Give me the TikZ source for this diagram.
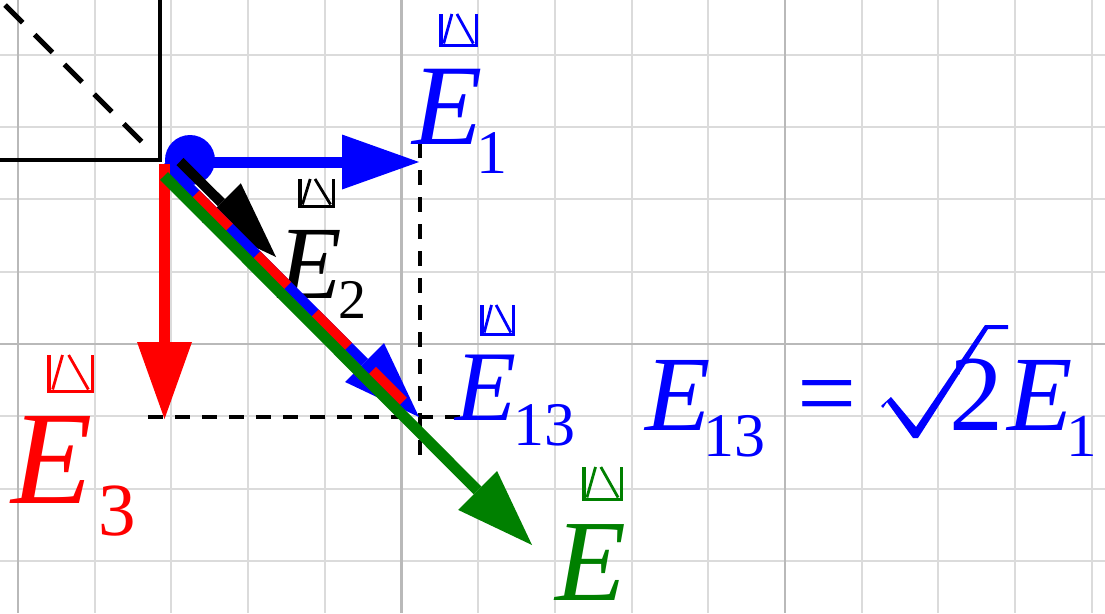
\documentclass[tikz,border=0pt]{standalone}
\usepackage{fontspec}
\setmainfont{Liberation Serif}
\usetikzlibrary{arrows.meta}
\definecolor{vgreen}{RGB}{0,128,0}
\newcommand\myacc[5]{%
  \draw[#5, line width=3.5pt, line join=miter] (#1+1.75,#2) -- (#1+1.75,#2+#4-1.75) -- (#1+#3-1.75,#2+#4-1.75) -- (#1+#3-1.75,#2);
  \draw[#5, line width=2.8pt] (#1+0.12*#3,#2+#4-3.5) -- (#1+0.33*#3,#2);
  \draw[#5, line width=2.8pt] (#1+0.46*#3,#2) -- (#1+0.88*#3,#2+#4-3.5);
}
\begin{document}
\begin{tikzpicture}[x=1pt,y=-1pt,
  gridminor/.style={draw=gray!28, line width=2pt},
  gridmajor/.style={draw=gray!55, line width=2.4pt},
  guide/.style={draw=black, line width=3.5pt, dash pattern=on 15pt off 12pt},
  vec/.style={line width=11pt, -{Triangle[length=77pt,width=55pt,line width=0pt]}},
  lab/.style={anchor=base west, inner sep=0pt, outer sep=0pt},
]
\useasboundingbox (0,0) rectangle (1105,613);
\fill[white] (0,0) rectangle (1105,613);
% grid
\foreach \i in {0,...,14} {\pgfmathsetmacro\xx{18+76.7*\i}\draw[gridminor] (\xx,0) -- (\xx,613);}
\foreach \j in {-4,...,3} {\pgfmathsetmacro\yy{344+72.3*\j}\draw[gridminor] (0,\yy) -- (1105,\yy);}
\draw[gridmajor] (18,0) -- (18,613);
\draw[gridmajor] (401.5,0) -- (401.5,613);
\draw[gridmajor] (785,0) -- (785,613);
\draw[gridmajor] (0,344) -- (1105,344);
% square and its diagonal
\coordinate (sqA) at (160,-10);
\coordinate (sqC) at (160,160);
\coordinate (sqB) at (-10,160);
\draw[line width=4pt, line join=miter] (sqA) -- (sqC) -- (sqB);
\coordinate (dgA) at (141.5,141.5);
\coordinate (dgB) at (-5,-5);
\draw[line width=5pt, dash pattern=on 25pt off 17pt] (dgA) -- (dgB);
% guides
\coordinate (gvA) at (420,143);
\coordinate (gvB) at (420,465);
\coordinate (ghA) at (148,417);
\coordinate (ghB) at (462,417);
\draw[guide] (gvA) -- (gvB);
\draw[guide] (ghA) -- (ghB);
% labels
\myacc{439}{14}{39}{33}{blue}
\node[lab, text=blue] (e1) at (412,144) {\fontsize{115}{115}\selectfont\itshape E};
\node[lab, text=blue] (e1s) at (476,173) {\fontsize{62}{62}\selectfont 1};
\myacc{298}{179}{37}{29}{black}
\node[lab, text=black] (e2) at (278,298) {\fontsize{104}{104}\selectfont\itshape E};
\node[lab, text=black] (e2s) at (338,318) {\fontsize{56}{56}\selectfont 2};
\myacc{480}{305}{35}{31}{blue}
\node[lab, text=blue] (e13) at (455,420) {\fontsize{100}{100}\selectfont\itshape E};
\node[lab, text=blue] (e13s) at (513,445) {\fontsize{62}{62}\selectfont 13};
\myacc{47}{355}{47}{38}{red}
\node[lab, text=red] (e3) at (11.5,503) {\fontsize{133}{133}\selectfont\itshape E};
\node[lab, text=red] (e3s) at (98,535) {\fontsize{75}{75}\selectfont 3};
\myacc{582}{467}{41}{34}{vgreen}
\node[lab, text=vgreen] (e) at (555,600) {\fontsize{116}{116}\selectfont\itshape E};
% equation
\node[lab, text=blue] (q1) at (645,430) {\fontsize{107}{107}\selectfont\itshape E};
\node[lab, text=blue] (q1s) at (703,456) {\fontsize{62}{62}\selectfont 13};
\node[lab, text=blue] (qeq) at (797,428) {\fontsize{105}{105}\selectfont =};
\fill[blue] (881,406) -- (891,397) -- (916,427) -- (985,325) -- (1008,325) -- (1008,329) -- (988,329) -- (918,438) -- (913,438) -- (887,402) -- (883,408) -- cycle;
\node[lab, text=blue] (q2) at (949,430) {\fontsize{108}{108}\selectfont 2};
\node[lab, text=blue] (q3) at (1007,430) {\fontsize{107}{107}\selectfont\itshape E};
\node[lab, text=blue] (q3s) at (1066,456) {\fontsize{61}{61}\selectfont 1};
% vectors
\coordinate (O1) at (190,162);
\coordinate (T1) at (419,162);
\coordinate (O2) at (180,161.5);
\coordinate (T2) at (276,257);
\coordinate (O13) at (165,163);
\coordinate (T13) at (419,417);
\coordinate (R13) at (403.3,401.3);
\coordinate (O3) at (164.5,164);
\coordinate (T3) at (164.5,419);
\coordinate (OE) at (164,176);
\coordinate (TE) at (532,545);
\fill[blue] (190,160) circle[radius=25];
\draw[vec, blue] (O1) -- (T1);
\draw[vec, black, line width=10pt] (O2) -- (T2);
\draw[vec, blue, line width=10pt] (O13) -- (T13);
\draw[red, line width=10pt, dash pattern=on 0pt off 43.8pt on 47.2pt off 38.8pt on 43.6pt off 38.9pt on 47.2pt off 33.9pt on 43.6pt off 50pt] (O13) -- (R13);
\draw[vec, red] (O3) -- (T3);
\draw[vec, vgreen] (OE) -- (TE);
\end{tikzpicture}
\end{document}
